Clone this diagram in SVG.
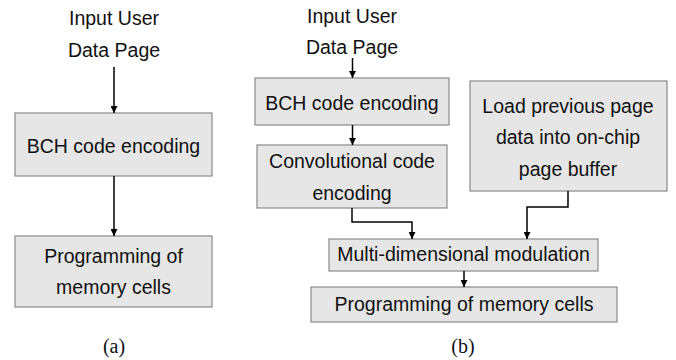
<svg xmlns="http://www.w3.org/2000/svg" width="676" height="360" viewBox="0 0 676 360">
  <style>
    .box { fill: #e6e6e6; stroke: #8a8a8a; stroke-width: 1.2; }
    .lbl { font-family: "Liberation Sans", Arial, sans-serif; font-size: 19.5px; fill: #111; text-anchor: middle; }
    .cap { font-family: "Liberation Serif", "Times New Roman", serif; font-size: 20px; fill: #111; text-anchor: middle; }
    .wire { fill: none; stroke: #000; stroke-width: 1.5; marker-end: url(#head); }
  </style>
  <defs>
    <marker id="head" viewBox="0 0 8 8" refX="8" refY="4" markerWidth="8" markerHeight="7" markerUnits="userSpaceOnUse" orient="auto">
      <path d="M0,0 L8,4 L0,8 z" fill="#000"/>
    </marker>
  </defs>

  <rect width="676" height="360" fill="#fff"/>

  <!-- (a) plain BCH flow -->
  <g id="a-input">
    <text class="lbl" x="114" y="25">Input User</text>
    <text class="lbl" x="114" y="57">Data Page</text>
  </g>
  <g id="a-bch">
    <rect class="box" x="15" y="113" width="197" height="63"/>
    <text class="lbl" x="113.5" y="153">BCH code encoding</text>
  </g>
  <g id="a-program">
    <rect class="box" x="15" y="236" width="197" height="71"/>
    <text class="lbl" x="113.5" y="263">Programming of</text>
    <text class="lbl" x="113.5" y="294">memory cells</text>
  </g>
  <text class="cap" x="114" y="353">(a)</text>

  <!-- (b) concatenated coding with modulation -->
  <g id="b-input">
    <text class="lbl" x="352" y="23">Input User</text>
    <text class="lbl" x="352" y="54">Data Page</text>
  </g>
  <g id="b-bch">
    <rect class="box" x="255" y="78" width="194" height="47"/>
    <text class="lbl" x="352" y="110">BCH code encoding</text>
  </g>
  <g id="b-conv">
    <rect class="box" x="257" y="145" width="190" height="63"/>
    <text class="lbl" x="352" y="168">Convolutional code</text>
    <text class="lbl" x="352" y="200">encoding</text>
  </g>
  <g id="b-load">
    <rect class="box" x="470" y="81" width="197" height="110"/>
    <text class="lbl" x="568" y="113">Load previous page</text>
    <text class="lbl" x="568" y="144">data into on-chip</text>
    <text class="lbl" x="568" y="176">page buffer</text>
  </g>
  <g id="b-modulation">
    <rect class="box" x="329" y="239" width="269" height="32"/>
    <text class="lbl" x="463.5" y="261">Multi-dimensional modulation</text>
  </g>
  <g id="b-program">
    <rect class="box" x="311" y="287" width="306" height="35"/>
    <text class="lbl" x="464" y="311">Programming of memory cells</text>
  </g>
  <text class="cap" x="463" y="353">(b)</text>

  <g id="connectors">
    <path class="wire" d="M114,67 V113"/>
    <path class="wire" d="M114,176 V236"/>
    <path class="wire" d="M352.5,58 V78"/>
    <path class="wire" d="M352.5,125 V145"/>
    <path class="wire" d="M352,208 V222 H412 V239"/>
    <path class="wire" d="M568,191 V207 H527 V239"/>
    <path class="wire" d="M464,271 V287"/>
  </g>
</svg>
